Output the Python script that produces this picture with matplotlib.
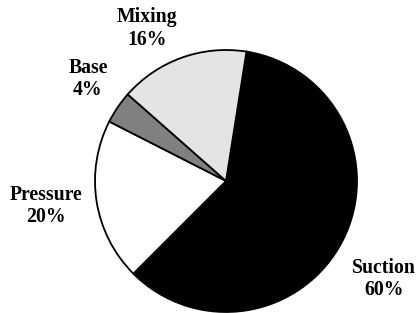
import matplotlib
matplotlib.use("Agg")
import matplotlib.pyplot as plt

categories = ["Suction", "Pressure", "Base", "Mixing"]
values = [60, 20, 4, 16]
colors = ["#000000", "#ffffff", "#808080", "#e4e4e4"]
label_pos = [(384, 34), (46, 107), (88, 234), (147, 284.5)]

W, H = 416, 313
fig = plt.figure(figsize=(W / 100, H / 100), dpi=100)
ax = fig.add_axes([0, 0, 1, 1])

ax.pie(values, colors=colors, startangle=81, counterclock=False,
       center=(226, 132), radius=131, frame=True,
       wedgeprops=dict(edgecolor="black", linewidth=1.3))
ax.set_xlim(0, W)
ax.set_ylim(0, H)
ax.set_aspect("equal")
ax.axis("off")

for name, v, (x, y) in zip(categories, values, label_pos):
    ax.text(x, y, f"{name}\n{v}%", ha="center", va="center",
            family="Liberation Serif", fontweight="bold", fontsize=14.2,
            linespacing=1.15)

fig.savefig("out.png", dpi=100)
